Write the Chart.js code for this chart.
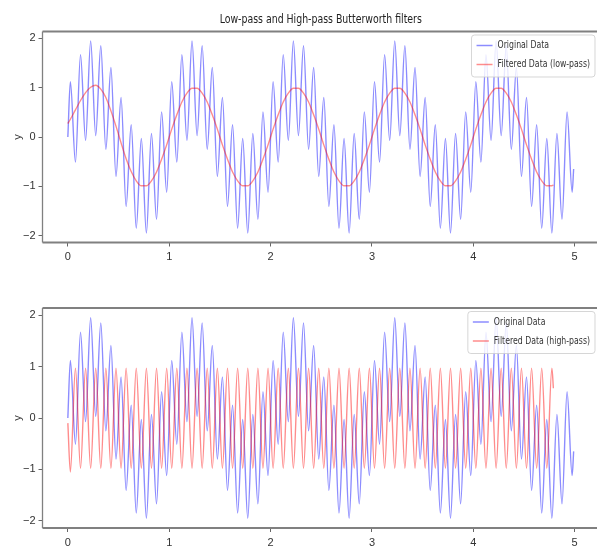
<!DOCTYPE html>
<html>
<head>
<meta charset="utf-8">
<script src="https://cdn.jsdelivr.net/npm/chart.js@4.4.1/dist/chart.umd.min.js"></script>
<style>
  html, body { margin: 0; padding: 0; background: #fff; }
  body { width: 597px; height: 546px; overflow: hidden; position: relative; }
  canvas { position: absolute; left: 0; }
  #topChart { top: 0; }
  #bottomChart { top: 280px; }
</style>
</head>
<body>
<canvas id="topChart" width="620" height="270"></canvas>
<canvas id="bottomChart" width="620" height="280"></canvas>
<script>
// Sample times for the original signal (peaks/troughs of the fast wave)
const origT = [0,
  0.025,0.075,0.125,0.175,0.225,0.275,0.325,0.375,0.425,0.475,0.525,0.575,0.625,0.675,0.725,0.775,0.825,0.875,0.925,0.975,
  1.025,1.075,1.125,1.175,1.225,1.275,1.325,1.375,1.425,1.475,1.525,1.575,1.625,1.675,1.725,1.775,1.825,1.875,1.925,1.975,
  2.025,2.075,2.125,2.175,2.225,2.275,2.325,2.375,2.425,2.475,2.525,2.575,2.625,2.675,2.725,2.775,2.825,2.875,2.925,2.975,
  3.025,3.075,3.125,3.175,3.225,3.275,3.325,3.375,3.425,3.475,3.525,3.575,3.625,3.675,3.725,3.775,3.825,3.875,3.925,3.975,
  4.025,4.075,4.125,4.175,4.225,4.275,4.325,4.375,4.425,4.475,4.525,4.575,4.625,4.675,4.725,4.775,4.825,4.875,4.925,4.975,
  4.99];
const origY = [0,
  1.12,-0.51,1.67,-0.07,1.95,0.03,1.85,-0.25,1.41,-0.80,0.80,-1.41,0.25,-1.85,-0.03,-1.95,0.07,-1.67,0.51,-1.12,
  1.12,-0.51,1.67,-0.07,1.95,0.03,1.85,-0.25,1.41,-0.80,0.80,-1.41,0.25,-1.85,-0.03,-1.95,0.07,-1.67,0.51,-1.12,
  1.12,-0.51,1.67,-0.07,1.95,0.03,1.85,-0.25,1.41,-0.80,0.80,-1.41,0.25,-1.85,-0.03,-1.95,0.07,-1.67,0.51,-1.12,
  1.12,-0.51,1.67,-0.07,1.95,0.03,1.85,-0.25,1.41,-0.80,0.80,-1.41,0.25,-1.85,-0.03,-1.95,0.07,-1.67,0.51,-1.12,
  1.12,-0.51,1.67,-0.07,1.95,0.03,1.85,-0.25,1.41,-0.80,0.80,-1.41,0.25,-1.85,-0.03,-1.95,0.07,-1.67,0.51,-1.12,
  -0.65];

// Sample times for the filtered outputs (they stop a little before 5)
const filtT = [0,
  0.025,0.075,0.125,0.175,0.225,0.275,0.325,0.375,0.425,0.475,0.525,0.575,0.625,0.675,0.725,0.775,0.825,0.875,0.925,0.975,
  1.025,1.075,1.125,1.175,1.225,1.275,1.325,1.375,1.425,1.475,1.525,1.575,1.625,1.675,1.725,1.775,1.825,1.875,1.925,1.975,
  2.025,2.075,2.125,2.175,2.225,2.275,2.325,2.375,2.425,2.475,2.525,2.575,2.625,2.675,2.725,2.775,2.825,2.875,2.925,2.975,
  3.025,3.075,3.125,3.175,3.225,3.275,3.325,3.375,3.425,3.475,3.525,3.575,3.625,3.675,3.725,3.775,3.825,3.875,3.925,3.975,
  4.025,4.075,4.125,4.175,4.225,4.275,4.325,4.375,4.425,4.475,4.525,4.575,4.625,4.675,4.725,4.775,
  4.79];
const lowY = [0.27,
  0.36,0.55,0.74,0.90,1.01,1.05,0.97,0.80,0.53,0.22,-0.12,-0.44,-0.70,-0.89,-0.99,-0.99,-0.89,-0.71,-0.45,-0.16,
  0.16,0.45,0.71,0.89,0.99,0.99,0.89,0.71,0.45,0.16,-0.16,-0.45,-0.71,-0.89,-0.99,-0.99,-0.89,-0.71,-0.45,-0.16,
  0.16,0.45,0.71,0.89,0.99,0.99,0.89,0.71,0.45,0.16,-0.16,-0.45,-0.71,-0.89,-0.99,-0.99,-0.89,-0.71,-0.45,-0.16,
  0.16,0.45,0.71,0.89,0.99,0.99,0.89,0.71,0.45,0.16,-0.16,-0.45,-0.71,-0.89,-0.99,-0.99,-0.89,-0.71,-0.45,-0.16,
  0.16,0.45,0.71,0.89,0.99,0.99,0.89,0.71,0.45,0.16,-0.16,-0.45,-0.71,-0.89,-0.99,-0.99,
  -0.97];
const highY = [-0.1,
  -1.05,0.97,-0.98,0.97,-0.98,0.97,-0.98,0.97,-0.98,0.97,-0.98,0.97,-0.98,0.97,-0.98,0.97,-0.98,0.97,-0.98,0.97,
  -0.98,0.97,-0.98,0.97,-0.98,0.97,-0.98,0.97,-0.98,0.97,-0.98,0.97,-0.98,0.97,-0.98,0.97,-0.98,0.97,-0.98,0.97,
  -0.98,0.97,-0.98,0.97,-0.98,0.97,-0.98,0.97,-0.98,0.97,-0.98,0.97,-0.98,0.97,-0.98,0.97,-0.98,0.97,-0.98,0.97,
  -0.98,0.97,-0.98,0.97,-0.98,0.97,-0.98,0.97,-0.98,0.97,-0.98,0.97,-0.98,0.97,-0.98,0.97,-0.98,0.97,-0.98,0.97,
  -0.98,0.97,-0.98,0.97,-0.98,0.97,-0.98,0.97,-0.98,0.97,-0.98,0.97,-0.98,0.97,-0.98,0.97,
  0.58];

const xTicks = [0, 1, 2, 3, 4, 5];
const yTicks = [-2, -1, 0, 1, 2];

const FONT = "'Liberation Sans', Arial, sans-serif";
const TEXT_FONT = "'DejaVu Sans', sans-serif";
const SQUEEZE = 0.75;   // reference text is horizontally compressed
const BLUE = "rgba(0,0,255,0.45)";
const RED = "rgba(255,0,0,0.45)";

Chart.defaults.font.family = FONT;
Chart.defaults.color = "#333";

function toPoints(xs, ys) {
  return xs.map((x, i) => ({ x: x, y: ys[i] }));
}

// squeezed text helper
function narrowText(ctx, text, x, y) {
  ctx.save();
  ctx.translate(x, y);
  ctx.scale(SQUEEZE, 1);
  ctx.fillText(text, 0, 0);
  ctx.restore();
}

// axes frame (spines) + title centred over the axes
const framePlugin = {
  id: "frame",
  afterDraw(chart, args, opts) {
    const a = chart.chartArea, ctx = chart.ctx;
    ctx.save();
    ctx.strokeStyle = "#808080";
    ctx.lineWidth = 2;
    ctx.beginPath();
    ctx.moveTo(a.left, a.top); ctx.lineTo(a.right, a.top);
    ctx.moveTo(a.left, a.bottom); ctx.lineTo(a.right, a.bottom);
    ctx.stroke();
    ctx.lineWidth = 1.3;
    ctx.beginPath();
    ctx.moveTo(a.left, a.top); ctx.lineTo(a.left, a.bottom);
    ctx.moveTo(a.right, a.top); ctx.lineTo(a.right, a.bottom);
    ctx.stroke();
    if (opts.title) {
      ctx.font = "12.5px " + TEXT_FONT;
      ctx.fillStyle = "#222";
      ctx.textAlign = "center";
      ctx.textBaseline = "middle";
      narrowText(ctx, opts.title, (a.left + a.right) / 2, 19.5);
    }
    ctx.restore();
  }
};

// matplotlib-like legend inside the axes, upper right
const boxLegend = {
  id: "boxLegend",
  afterDatasetsDraw(chart) {
    const a = chart.chartArea, ctx = chart.ctx;
    const sets = chart.data.datasets;
    ctx.save();
    ctx.font = "10.4px " + TEXT_FONT;
    const textW = Math.max(...sets.map(s => ctx.measureText(s.label).width)) * SQUEEZE;
    const w = 5 + 16 + 5 + textW + 5;
    const h = 42;
    const x = a.right - 4 - w;
    const y = a.top + 3.5;
    ctx.beginPath();
    ctx.roundRect(x, y, w, h, 3);
    ctx.fillStyle = "rgba(255,255,255,0.8)";
    ctx.fill();
    ctx.strokeStyle = "rgba(204,204,204,0.8)";
    ctx.lineWidth = 1;
    ctx.stroke();
    sets.forEach((s, i) => {
      const cy = y + 10.5 + i * 19;
      ctx.strokeStyle = s.borderColor;
      ctx.lineWidth = 1.5;
      ctx.beginPath();
      ctx.moveTo(x + 5, cy);
      ctx.lineTo(x + 21, cy);
      ctx.stroke();
      ctx.fillStyle = "#333";
      ctx.textBaseline = "middle";
      ctx.textAlign = "left";
      narrowText(ctx, s.label, x + 26, cy);
    });
    ctx.restore();
  }
};

function makeOptions(axisHeight, padTop, title) {
  return {
    responsive: false,
    animation: false,
    devicePixelRatio: 1,
    layout: { padding: { top: padTop, right: 21, left: 0, bottom: 0 } },
    elements: { point: { radius: 0 }, line: { borderWidth: 1.4, cubicInterpolationMode: "monotone" } },
    plugins: {
      legend: { display: false },
      tooltip: { enabled: false },
      title: { display: false },
      frame: { title: title }
    },
    scales: {
      x: {
        type: "linear", min: -0.25, max: 5.24,
        afterBuildTicks: s => { s.ticks = xTicks.map(v => ({ value: v })); },
        afterFit: s => { s.height = axisHeight; },
        grid: { drawOnChartArea: false, drawTicks: true, tickLength: 4, color: "#666" },
        border: { display: false },
        ticks: { font: { size: 11 }, padding: 4, maxRotation: 0 }
      },
      y: {
        min: -2.14, max: 2.14,
        afterBuildTicks: s => { s.ticks = yTicks.map(v => ({ value: v })); },
        afterFit: s => { s.width = 42.5; },
        grid: { drawOnChartArea: false, drawTicks: true, tickLength: 4, color: "#666" },
        border: { display: false },
        ticks: { font: { size: 11 }, padding: 3, callback: v => (v < 0 ? "\u2212" + Math.abs(v) : String(v)) },
        title: { display: true, text: "y", font: { size: 11 }, padding: { top: 11, bottom: 0 } }
      }
    }
  };
}

new Chart(document.getElementById("topChart"), {
  type: "line",
  data: {
    datasets: [
      { label: "Original Data", data: toPoints(origT, origY), borderColor: BLUE, order: 2 },
      { label: "Filtered Data (low-pass)", data: toPoints(filtT, lowY), borderColor: RED, order: 1 }
    ]
  },
  options: makeOptions(27.5, 31.5, "Low-pass and High-pass Butterworth filters"),
  plugins: [framePlugin, boxLegend]
});

new Chart(document.getElementById("bottomChart"), {
  type: "line",
  data: {
    datasets: [
      { label: "Original Data", data: toPoints(origT, origY), borderColor: BLUE, order: 2 },
      { label: "Filtered Data (high-pass)", data: toPoints(filtT, highY), borderColor: RED, order: 1 }
    ]
  },
  options: makeOptions(32, 28, null),
  plugins: [framePlugin, boxLegend]
});
</script>
</body>
</html>
